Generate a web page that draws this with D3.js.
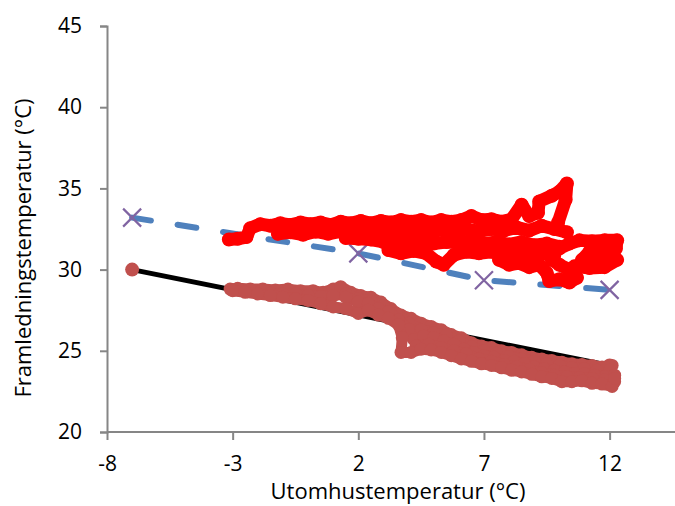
<!DOCTYPE html>
<html>
<head>
<meta charset="utf-8">
<script src="https://cdn.jsdelivr.net/npm/d3@7"></script>
<style>
  body { margin: 0; background: #fff; }
  text { font-family: "Open Sans", sans-serif; fill: #000; }
</style>
</head>
<body>
<svg id="chart" width="675" height="506"></svg>
<script>
// tick values
const xTicks = [-8, -3, 2, 7, 12];
const yTicks = [20, 25, 30, 35, 40, 45];

// design curve (black line, end markers)
const designCurve = [[-7, 30.0], [12, 24.1]];

// blue dashed curve with X markers
const setCurve = [[-7, 33.2], [2, 31.0], [7, 29.35], [12, 28.75]];

// measured flow temperature, red cloud
const redTop = [[-3.15,31.85],[-2.8,31.9],[-2.45,32.0],[-2.3,32.55],[-1.9,32.8],[-1.5,32.7],[-1.1,32.85],[-0.7,32.75],[-0.3,32.9],[0.1,32.8],[0.5,32.9],[0.9,32.75],[1.3,32.95],[1.7,32.85],[2.1,33.0],[2.5,32.85],[2.9,33.0],[3.3,32.9],[3.7,33.05],[4.1,32.95],[4.5,33.05],[4.9,32.9],[5.3,33.05],[5.7,32.95],[6.1,33.05],[6.5,33.3],[6.9,33.05],[7.3,33.1],[7.7,32.95],[8.1,33.1],[8.5,34.0],[8.8,33.3],[9.15,33.5],[9.2,34.2],[9.7,34.55],[10.0,34.8],[10.3,35.3],[10.25,34.3],[9.95,32.9]];
const redRow2 = [[-1.2,32.2],[-0.7,32.3],[-0.2,32.15],[0.3,32.35],[0.8,32.2],[1.3,32.35],[1.8,32.2],[2.3,32.4],[2.8,32.25],[3.3,32.4],[3.8,32.3],[4.3,32.45],[4.8,32.3],[5.3,32.45],[5.8,32.3],[6.3,32.5],[6.8,32.35],[7.3,32.5],[7.8,32.4],[8.3,32.6],[8.8,32.4],[9.3,32.7],[9.8,32.5],[10.3,32.3]];
const redRow3 = [[1.5,31.95],[2.0,31.9],[2.5,31.85],[3.0,31.7],[3.5,31.75],[4.0,31.65],[4.5,31.75],[5.0,31.6],[5.5,31.7],[6.0,31.65],[6.5,31.75],[7.0,31.6],[7.5,31.7],[8.0,31.55],[8.5,31.7],[9.0,31.5],[9.5,31.6],[10.0,31.4]];
const redRow4 = [[3.2,31.2],[3.7,31.0],[4.2,31.15],[4.7,31.0],[5.1,30.5],[5.4,30.3],[5.8,30.9],[6.3,31.1],[6.8,31.0],[7.3,31.1],[7.8,30.9],[8.3,31.05],[8.8,30.8],[9.3,31.0],[9.8,30.9]];
const redRow5 = [[7.6,30.6],[8.0,30.3],[8.4,30.4],[8.8,30.15],[9.2,30.3],[9.5,29.8],[9.6,29.3],[10.0,29.4],[10.4,29.2],[10.7,29.5],[10.4,30.0],[10.0,30.3],[9.7,30.6]];
const redRight = [[10.0,31.3],[10.4,31.6],[10.8,31.8],[11.3,31.75],[11.8,31.8],[12.3,31.8],[12.25,31.3],[11.7,31.2],[11.2,31.1],[10.9,30.6],[11.4,30.6],[11.9,30.6],[12.3,30.6],[11.8,30.15],[11.2,30.1],[10.6,30.2]];

// measured return temperature, brown cloud
const brownTop = [[-3.1,28.8],[-2.8,28.85],[-2.3,28.8],[-1.8,28.8],[-1.3,28.75],[-0.8,28.8],[-0.3,28.7],[0.2,28.7],[0.6,28.6],[1.0,28.8],[1.3,28.95],[1.7,28.6],[2.1,28.4],[2.5,28.3],[2.9,28.0],[3.3,27.6],[3.7,27.2],[4.1,27.0],[4.5,26.7],[4.9,26.5],[5.3,26.3],[5.7,26.0],[6.1,25.8],[6.5,25.5],[6.9,25.3],[7.3,25.2],[7.7,25.0],[8.1,24.9],[8.5,24.75],[8.9,24.6],[9.3,24.5],[9.7,24.4],[10.1,24.3],[10.5,24.2],[10.9,24.15],[11.3,24.1],[11.7,24.0],[12.1,24.1]];
const brownRow2 = [[-1.5,28.55],[-1.0,28.5],[-0.5,28.5],[0.0,28.4],[0.5,28.35],[1.0,28.4],[1.5,28.5],[2.0,28.2],[2.5,28.05],[3.0,27.75],[3.5,27.3],[4.0,26.7],[4.5,26.3],[5.0,26.1],[5.5,25.95],[6.0,25.6],[6.5,25.25],[7.0,25.0],[7.5,24.85],[8.0,24.65],[8.5,24.5],[9.0,24.35],[9.5,24.2],[10.0,24.1],[10.5,23.95],[11.0,23.9],[11.5,23.8],[12.0,23.8]];
const brownMid = [[1.5,28.3],[2.0,28.0],[2.4,27.9],[2.8,27.6],[3.2,27.4],[3.6,26.9],[4.0,26.3],[4.2,25.7],[4.6,25.9],[5.0,25.8],[5.4,25.6],[5.8,25.4],[6.2,25.1],[6.6,24.9],[7.0,24.7],[7.4,24.6],[7.8,24.4],[8.2,24.35],[8.6,24.2],[9.0,24.0],[9.4,23.9],[9.8,23.8],[10.2,23.7],[10.6,23.6],[11.0,23.6],[11.4,23.5],[11.8,23.4],[12.2,23.5]];
const brownRow4 = [[4.3,25.3],[4.8,25.4],[5.3,25.2],[5.8,25.0],[6.3,24.8],[6.8,24.5],[7.3,24.35],[7.8,24.15],[8.3,24.0],[8.8,23.85],[9.3,23.65],[9.8,23.5],[10.3,23.4],[10.8,23.35],[11.3,23.3],[11.8,23.2],[12.2,23.1]];
const brownBottom = [[-3.0,28.7],[-2.5,28.6],[-2.0,28.5],[-1.5,28.4],[-1.0,28.3],[-0.5,28.2],[0.0,28.1],[0.5,27.9],[1.0,27.7],[1.5,27.6],[2.0,27.3],[2.4,27.5],[2.8,27.2],[3.2,27.0],[3.6,26.6],[3.75,25.8],[3.7,24.9],[4.1,24.9],[4.5,25.1],[4.9,25.05],[5.3,24.9],[5.7,24.7],[6.1,24.5],[6.5,24.35],[6.9,24.2],[7.3,24.1],[7.7,23.95],[8.1,23.8],[8.5,23.7],[8.9,23.55],[9.3,23.4],[9.7,23.3],[10.1,23.1],[10.5,23.1],[10.9,23.15],[11.3,23.0],[11.7,22.95],[12.1,22.8],[12.2,23.3]];

const svg = d3.select("#chart");

const x = d3.scaleLinear().domain([-8, 15]).range([107, 685]);
const y = d3.scaleLinear().domain([20, 45]).range([432, 26]);

const axisColor = "#868686";

// x axis
const gx = svg.append("g").attr("transform", "translate(0," + y(20) + ")")
  .call(d3.axisBottom(x).tickValues(xTicks).tickSize(8).tickPadding(21).tickFormat(d => String(d)));
// y axis
const gy = svg.append("g").attr("transform", "translate(" + x(-8) + ",0)")
  .call(d3.axisLeft(y).tickValues(yTicks).tickSize(7).tickPadding(18).tickFormat(d => String(d)));

[gx, gy].forEach(g => {
  g.select(".domain").attr("stroke", axisColor).attr("stroke-width", 2);
  g.selectAll(".tick line").attr("stroke", axisColor).attr("stroke-width", 2);
  g.selectAll(".tick text").style("font-size", "21px").attr("fill", "#000");
});
gx.select(".domain").attr("d", "M" + x(-8) + ",0H" + x(15));
gx.selectAll(".tick text").attr("y", 39).attr("dy", null);

const line = d3.line().x(d => x(d[0])).y(d => y(d[1]));

// design curve
svg.append("path").datum(designCurve)
  .attr("fill", "none").attr("stroke", "#000").attr("stroke-width", 5)
  .attr("d", line);
svg.selectAll(".design-pt").data(designCurve).join("circle")
  .attr("cx", d => x(d[0])).attr("cy", d => y(d[1])).attr("r", 7)
  .attr("fill", "#C0504D");

// dashed set curve
svg.append("path").datum(setCurve)
  .attr("fill", "none").attr("stroke", "#4F81BD").attr("stroke-width", 6)
  .attr("stroke-linecap", "round").attr("stroke-dasharray", "19,27")
  .attr("d", line);
svg.selectAll(".set-pt").data(setCurve).join("path")
  .attr("d", d => {
    const cx = x(d[0]), cy = y(d[1]), s = 9;
    return "M" + (cx - s) + "," + (cy - s) + "L" + (cx + s) + "," + (cy + s) +
           "M" + (cx - s) + "," + (cy + s) + "L" + (cx + s) + "," + (cy - s);
  })
  .attr("stroke", "#8064A2").attr("stroke-width", 2.2).attr("fill", "none");

function cloud(traces, color, r, w) {
  const g = svg.append("g");
  traces.forEach(t => {
    g.append("path").datum(t)
      .attr("fill", "none").attr("stroke", color).attr("stroke-width", w)
      .attr("stroke-linejoin", "round").attr("stroke-linecap", "round")
      .attr("d", line);
    g.selectAll(null).data(t).join("circle")
      .attr("cx", d => x(d[0])).attr("cy", d => y(d[1])).attr("r", r)
      .attr("fill", color);
  });
}

cloud([redTop, redRow2, redRow3, redRow4, redRow5, redRight], "#FF0000", 7, 13);
cloud([brownTop, brownRow2, brownMid, brownRow4, brownBottom], "#C0504D", 6.5, 11);

// axis titles
svg.append("text")
  .attr("x", 398).attr("y", 499)
  .attr("text-anchor", "middle").style("font-size", "22px")
  .text("Utomhustemperatur  (°C)");
svg.append("text")
  .attr("transform", "translate(31,248) rotate(-90)")
  .attr("text-anchor", "middle").style("font-size", "22px")
  .text("Framledningstemperatur (°C)");
</script>
</body>
</html>
